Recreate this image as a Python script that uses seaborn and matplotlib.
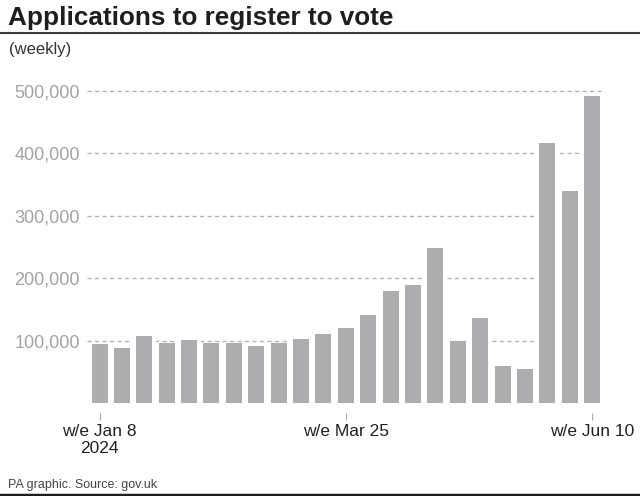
import matplotlib
matplotlib.use("Agg")
import matplotlib.pyplot as plt
from matplotlib.lines import Line2D
import seaborn as sns
import pandas as pd

# ---- data ----
weeks = ["Jan 8", "Jan 15", "Jan 22", "Jan 29", "Feb 5", "Feb 12", "Feb 19", "Feb 26",
         "Mar 4", "Mar 11", "Mar 18", "Mar 25", "Apr 1", "Apr 8", "Apr 15", "Apr 22",
         "Apr 29", "May 6", "May 13", "May 20", "May 27", "Jun 3", "Jun 10"]
applications = [94700, 88300, 107000, 96800, 101000, 96800, 96800, 91500,
                96800, 102700, 110700, 121000, 141000, 179000, 188600, 247800,
                99500, 135800, 59500, 55200, 415800, 339500, 491000]
tick_weeks = ["Jan 8", "Mar 25", "Jun 10"]
tick_labels = ["w/e Jan 8\n2024", "w/e Mar 25", "w/e Jun 10"]
y_ticks = [100000, 200000, 300000, 400000, 500000]

df = pd.DataFrame({"week": weeks, "applications": applications})

sns.set_theme(style="white")
plt.rcParams["font.family"] = ["Liberation Sans", "DejaVu Sans"]

W, H = 640, 496
fig = plt.figure(figsize=(W / 100, H / 100), dpi=100)
ax_left, ax_right = 87 / W, 601.7 / W
y0_px = 403.2
px_per_unit = 62.5 / 100000
ytop = 510000
top_px = y0_px - ytop * px_per_unit
ax = fig.add_axes([ax_left, 1 - y0_px / H, ax_right - ax_left, (y0_px - top_px) / H])

# gridlines
for v in y_ticks:
    ax.axhline(v, color="#b3b3b3", lw=1.0, ls=(0, (3, 2.4)), zorder=0)

# white halo behind bars (gaps in gridlines)
sns.barplot(data=df, x="week", y="applications", order=weeks, color="white",
            width=1.06, saturation=1, ax=ax, zorder=1, linewidth=0)
# actual bars
sns.barplot(data=df, x="week", y="applications", order=weeks, color="#adacae",
            width=0.715, saturation=1, ax=ax, zorder=2, linewidth=0)

ax.set_xlim(-0.56, 22.43)
ax.set_ylim(0, ytop)
ax.set_xlabel("")
ax.set_ylabel("")

for s in ax.spines.values():
    s.set_visible(False)
ax.spines["bottom"].set_position(("outward", 7.2))

ax.set_xticks([weeks.index(w) for w in tick_weeks])
ax.set_xticklabels(tick_labels, fontsize=12.5, color="#222222", linespacing=1.15)
ax.tick_params(axis="x", length=5, width=0.8, color="#aaaaaa", pad=3, bottom=True)

ax.set_yticks(y_ticks)
ax.set_yticklabels([f"{v:,}" for v in y_ticks], fontsize=13, color="#a3a3a3")
ax.tick_params(axis="y", length=0, pad=5)

# title & texts
fig.text(8 / W, 1 - 25 / H, "Applications to register to vote", fontsize=18.8,
         fontweight="bold", color="#1e1e1e", va="baseline", ha="left")
fig.text(9 / W, 1 - 54 / H, "(weekly)", fontsize=12, color="#333333",
         va="baseline", ha="left")
fig.text(8 / W, 1 - 488 / H, "PA graphic. Source: gov.uk", fontsize=9,
         color="#444444", va="baseline", ha="left")

fig.add_artist(Line2D([0, 1], [1 - 32.7 / H, 1 - 32.7 / H], color="#3a3a3a",
                      lw=1.5, transform=fig.transFigure))
fig.add_artist(Line2D([0, 1], [1 - 494.5 / H, 1 - 494.5 / H], color="#1e1e1e",
                      lw=2.5, transform=fig.transFigure))

fig.savefig("out.png", dpi=100)
